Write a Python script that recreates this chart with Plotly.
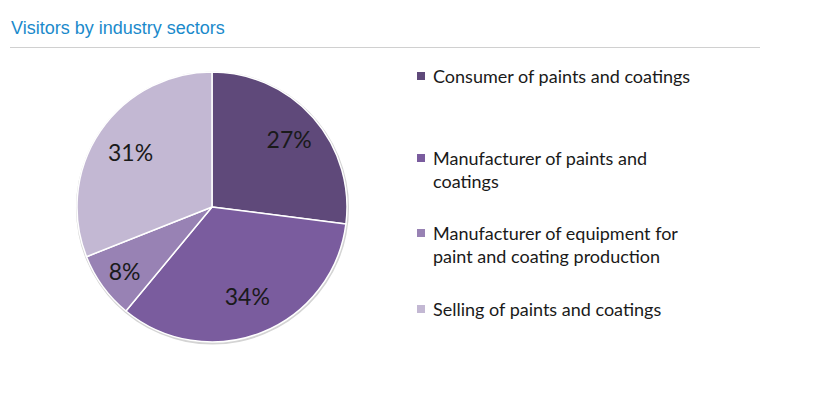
import plotly.graph_objects as go

categories = ["Consumer of paints and coatings",
              "Manufacturer of paints and<br>coatings",
              "Manufacturer of equipment for<br>paint and coating production",
              "Selling of paints and coatings"]
values = [27, 34, 8, 31]
colors = ["#5f497a", "#7a5c9e", "#9882b4", "#c3b8d3"]
title_text = "Visitors by industry sectors"

W, H = 816, 386
total = sum(values)
pct = [f"{round(100 * v / total)}%" for v in values]
small = [100 * v / total < 15 for v in values]

cx, cy, R = 204, 199, 135      # pie centre / radius in pixels (figure coords)
R_lab = 180                    # radius of the invisible label pie


def dom(r, dx=0, dy=0):
    return dict(x=[(cx - r + dx) / W, (cx + r + dx) / W],
                y=[1 - (cy + r + dy) / H, 1 - (cy - r + dy) / H])


label_font = dict(family="Lato, Open Sans, sans-serif", size=23, color="#1a1a1a")

fig = go.Figure()
# soft shadow / outline
fig.add_trace(go.Pie(values=[1], labels=[""], marker=dict(colors=["#d4d4d4"]),
                     textinfo="none", domain=dom(R + 1.5, 0.5, 1), showlegend=False,
                     hoverinfo="skip", sort=False))
# main pie
fig.add_trace(go.Pie(
    labels=categories, values=values, sort=False, direction="clockwise", rotation=0,
    marker=dict(colors=colors, line=dict(color="white", width=1.5)),
    text=[p if s else "" for p, s in zip(pct, small)], textinfo="text",
    textposition="inside", insidetextorientation="horizontal",
    textfont=label_font, domain=dom(R), showlegend=False, hoverinfo="label+percent",
))
# invisible larger pie used only to push the big-slice labels outward
fig.add_trace(go.Pie(
    labels=categories, values=values, sort=False, direction="clockwise", rotation=0,
    marker=dict(colors=["rgba(0,0,0,0)"] * len(values), line=dict(width=0)),
    text=["" if s else p for p, s in zip(pct, small)], textinfo="text",
    textposition="inside", insidetextorientation="horizontal",
    textfont=label_font, domain=dom(R_lab), showlegend=False, hoverinfo="skip",
))

shapes = [dict(type="line", xref="paper", yref="paper", x0=2 / W, x1=752 / W,
               y0=1 - 39.5 / H, y1=1 - 39.5 / H, line=dict(color="#d0d0d0", width=1))]
annotations = [dict(text=title_text, xref="paper", yref="paper", x=1 / W, y=1 - 20 / H,
                    xanchor="left", yanchor="middle", showarrow=False,
                    font=dict(family="Arial, Liberation Sans, sans-serif", size=18, color="#1a8acb"))]

legend_y = [68, 150, 225, 301]   # centre of first text line, figure coords
for cat, col, ly in zip(categories, colors, legend_y):
    shapes.append(dict(type="rect", xref="paper", yref="paper",
                       x0=409 / W, x1=417 / W, y0=1 - (ly + 4) / H, y1=1 - (ly - 4) / H,
                       fillcolor=col, line=dict(width=0)))
    annotations.append(dict(text=cat, xref="paper", yref="paper", x=423 / W, y=1 - (ly - 13) / H,
                            xanchor="left", yanchor="top", align="left", showarrow=False,
                            font=dict(family="Lato, Open Sans, sans-serif", size=18, color="#1a1a1a")))

fig.update_layout(width=W, height=H, margin=dict(l=0, r=0, t=0, b=0),
                  paper_bgcolor="white", plot_bgcolor="white",
                  shapes=shapes, annotations=annotations)
fig.write_html("out.html")
